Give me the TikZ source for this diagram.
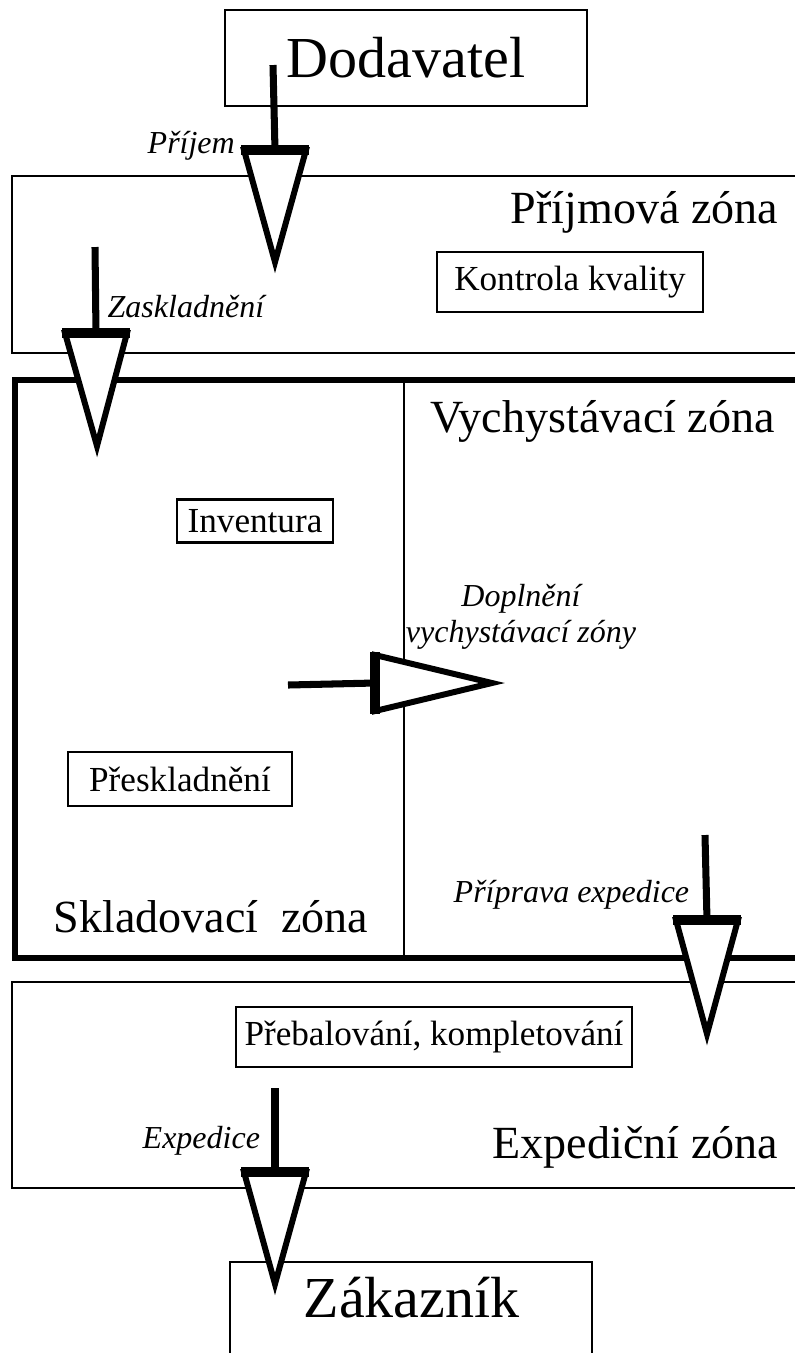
\documentclass[tikz,border=0pt]{standalone}
\usepackage{fontspec}
\setmainfont{Liberation Serif}
\usetikzlibrary{calc}

\tikzset{
  zone/.style={line width=0.6pt},
  frame/.style={line width=1.7pt},
  taskbox/.style={draw, line width=0.6pt, inner sep=0pt, font=\fontsize{10}{12}\selectfont},
  endbox/.style={draw, line width=0.6pt, inner sep=0pt, font=\fontsize{16.5}{19}\selectfont},
  zonetext/.style={anchor=base west, inner sep=0pt, font=\fontsize{13.1}{15}\selectfont},
  flowtext/.style={anchor=base west, inner sep=0pt, font=\fontsize{9.1}{10}\selectfont\itshape},
  shaft/.style={line width=2pt},
  head/.style={draw, fill=white, line width=1.7pt, line join=miter},
  headbar/.style={line width=3pt, line cap=butt},
}

\begin{document}
\begin{tikzpicture}[x=0.01cm, y=-0.01cm]
   \useasboundingbox (0,0) rectangle (795,1353);
   % zones
   \draw [zone] (12,176) rectangle (820,353);
   \draw [frame] (15,380) rectangle (820,958);
   \draw [zone] (404,380) -- (404,958);
   \draw [zone] (12,982) rectangle (820,1188);
   \node [zonetext] (prijmova) at (510,223) {Příjmová zóna};
   \node [zonetext] (vychyst) at (430,432) {Vychystávací zóna};
   \node [zonetext] (sklad) at (53,932) {Skladovací\ \ zóna};
   \node [zonetext] (expedzona) at (492,1158) {Expediční zóna};
   % boxes
   \node [endbox, minimum width=3.62cm, minimum height=0.96cm] (dodavatel) at (406,58) {Dodavatel};
   \draw [zone] (230,1400) -- (230,1262) -- (592,1262) -- (592,1400);
   \node [anchor=base west, inner sep=0pt, font=\fontsize{16.5}{19}\selectfont] (zakaznik) at (303,1317) {Zákazník};
   \node [taskbox, minimum width=2.66cm, minimum height=0.6cm] (kontrola) at (570,282) {Kontrola kvality};
   \node [taskbox, minimum width=1.56cm, minimum height=0.43cm] (inventura) at (255,521) {Inventura};
   \node [taskbox, minimum width=2.23cm, minimum height=0.54cm] (preskl) at (180,779) {Přeskladnění};
   \node [taskbox, minimum width=3.96cm, minimum height=0.6cm] (prebal) at (434,1037) {Přebalování, kompletování};
   % flow labels
   \node [flowtext] (lprijem) at (147,153) {Příjem};
   \node [flowtext] (lzaskl) at (107,317) {Zaskladnění};
   \node [flowtext, anchor=base, align=center] (ldopl) at (521,642) {Doplnění\\vychystávací zóny};
   \node [flowtext] (lpriprava) at (453,902) {Příprava expedice};
   \node [flowtext] (lexped) at (142,1148) {Expedice};
   % arrows
   \coordinate (prijem-s) at (273,65);
   \coordinate (prijem-b) at (275,150);
   \coordinate (prijem-t) at (275,262);
   \coordinate (zaskl-s) at (95,247);
   \coordinate (zaskl-b) at (96,333);
   \coordinate (zaskl-t) at (97,446);
   \coordinate (priprava-s) at (705,835);
   \coordinate (priprava-b) at (707,920);
   \coordinate (priprava-t) at (707,1034);
   \coordinate (exped-s) at (275,1088);
   \coordinate (exped-b) at (275,1172);
   \coordinate (exped-t) at (275,1284);
   \foreach \a in {prijem,zaskl,priprava,exped} {
      \draw [shaft] (\a-s) -- (\a-b);
      \draw [head] ($(\a-b)+(-31,0)$) -- ($(\a-b)+(31,0)$) -- (\a-t) -- cycle;
      \draw [headbar] ($(\a-b)+(-34,0)$) -- ($(\a-b)+(34,0)$);
   }
   \coordinate (dopl-s) at (288,685);
   \coordinate (dopl-b) at (375,683);
   \coordinate (dopl-t) at (492,683);
   \draw [shaft] (dopl-s) -- (dopl-b);
   \draw [head] ($(dopl-b)+(0,-28)$) -- ($(dopl-b)+(0,28)$) -- (dopl-t) -- cycle;
   \draw [headbar] ($(dopl-b)+(0,-31)$) -- ($(dopl-b)+(0,31)$);
\end{tikzpicture}
\end{document}
